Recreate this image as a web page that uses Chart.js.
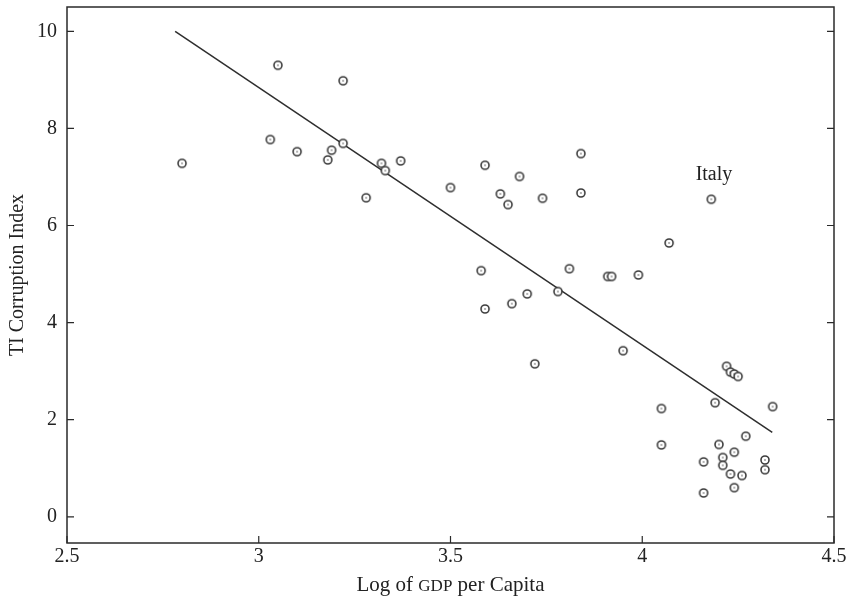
<!DOCTYPE html>
<html>
<head>
<meta charset="utf-8">
<title>TI Corruption Index vs Log of GDP per Capita</title>
<script src="https://cdn.jsdelivr.net/npm/chart.js@4.4.1/dist/chart.umd.min.js"></script>
<style>
	html, body { margin: 0; padding: 0; background: #fff; }
	#wrap { width: 850px; height: 600px; position: relative; }
</style>
</head>
<body>
<div id="wrap"><canvas id="corruption-chart" width="850" height="600"></canvas></div>
<script>
// log of GDP per capita, one entry per country
var gdpLog = [
	2.80, 3.05, 3.22, 3.03, 3.10, 3.22, 3.19, 3.18, 3.32, 3.33,
	3.37, 3.28, 3.50, 3.59, 3.68, 3.63, 3.65, 3.74, 3.84, 3.84,
	4.07, 3.58, 3.81, 3.91, 3.92, 3.99, 3.78, 3.70, 3.66, 3.59,
	3.95, 4.05, 4.05, 4.19, 4.22, 4.23, 4.24, 4.25, 4.34, 4.27,
	4.20, 4.24, 4.21, 4.21, 4.16, 4.32, 4.32, 4.23, 4.26, 4.24,
	4.16, 4.18, 3.72
];

// TI corruption index, same order as gdpLog
var tiIndex = [
	7.28, 9.30, 8.98, 7.77, 7.52, 7.69, 7.55, 7.35, 7.28, 7.13,
	7.33, 6.57, 6.78, 7.24, 7.01, 6.65, 6.43, 6.56, 7.48, 6.67,
	5.64, 5.07, 5.11, 4.95, 4.95, 4.98, 4.64, 4.59, 4.39, 4.28,
	3.42, 2.23, 1.48, 2.35, 3.10, 2.98, 2.94, 2.89, 2.27, 1.66,
	1.49, 1.33, 1.22, 1.06, 1.13, 1.17, 0.97, 0.88, 0.85, 0.60,
	0.49, 6.54, 3.15
];

// fitted line end points
var fitX = [ 2.782, 4.339 ];
var fitY = [ 10.0, 1.74 ];

// tick labels
var xTicks = [ 2.5, 3, 3.5, 4, 4.5 ];
var yTicks = [ 0, 2, 4, 6, 8, 10 ];

// annotation
var noteText = 'Italy';
var noteX = 4.187;
var noteY = 7.05;

( function() {

	var serif = "'Liberation Serif', 'DejaVu Serif', serif";
	var ink = '#222';

	/**
	 * Ring marker with a small dot in the middle.
	 */
	function makeMarker() {
		var c = document.createElement( 'canvas' );
		c.width = 12;
		c.height = 12;

		var ctx = c.getContext( '2d' );

		ctx.beginPath();
		ctx.arc( 6, 6, 4, 0, Math.PI * 2 );
		ctx.fillStyle = '#fff';
		ctx.fill();
		ctx.lineWidth = 1.6;
		ctx.strokeStyle = '#3c3c3c';
		ctx.stroke();

		ctx.beginPath();
		ctx.arc( 6, 6, 0.9, 0, Math.PI * 2 );
		ctx.fillStyle = '#8c8c8c';
		ctx.fill();

		return c;
	}

	var points = gdpLog.map( function( x, i ) {
		return { x: x, y: tiIndex[i] };
	} );

	var fitLine = fitX.map( function( x, i ) {
		return { x: x, y: fitY[i] };
	} );

	/**
	 * Box round the plot, inward ticks, x title and the note.
	 */
	var framePlugin = {
		id: 'frame',
		afterDraw: function( chart ) {
			var ctx = chart.ctx;
			var area = chart.chartArea;
			var xs = chart.scales.x;
			var ys = chart.scales.y;
			var len = 7;

			ctx.save();
			ctx.strokeStyle = '#2a2a2a';
			ctx.lineWidth = 1.5;
			ctx.strokeRect( area.left, area.top, area.right - area.left, area.bottom - area.top );

			ctx.lineWidth = 1.2;
			ctx.beginPath();
			xTicks.forEach( function( v ) {
				var px = xs.getPixelForValue( v );
				ctx.moveTo( px, area.bottom );
				ctx.lineTo( px, area.bottom - len );
			} );
			yTicks.forEach( function( v ) {
				var py = ys.getPixelForValue( v );
				ctx.moveTo( area.left, py );
				ctx.lineTo( area.left + len, py );
				ctx.moveTo( area.right, py );
				ctx.lineTo( area.right - len, py );
			} );
			ctx.stroke();

			// x title, GDP in small capitals
			var parts = [
				{ text: 'Log of ', size: 21 },
				{ text: 'GDP', size: 17 },
				{ text: ' per Capita', size: 21 }
			];
			var total = 0;

			parts.forEach( function( p ) {
				ctx.font = p.size + 'px ' + serif;
				p.width = ctx.measureText( p.text ).width;
				total += p.width;
			} );

			var cx = ( area.left + area.right ) / 2 - total / 2;

			ctx.fillStyle = ink;
			ctx.textBaseline = 'alphabetic';
			ctx.textAlign = 'left';
			parts.forEach( function( p ) {
				ctx.font = p.size + 'px ' + serif;
				ctx.fillText( p.text, cx, 591 );
				cx += p.width;
			} );

			// note
			ctx.font = '20px ' + serif;
			ctx.textAlign = 'center';
			ctx.textBaseline = 'middle';
			ctx.fillText( noteText, xs.getPixelForValue( noteX ), ys.getPixelForValue( noteY ) );

			ctx.restore();
		}
	};

	var config = {
		type: 'scatter',
		data: {
			datasets: [
				{
					type: 'line',
					data: fitLine,
					borderColor: '#2e2e2e',
					borderWidth: 1.5,
					pointRadius: 0,
					fill: false,
					order: 2
				},
				{
					data: points,
					pointStyle: makeMarker(),
					pointRadius: 5,
					order: 1
				}
			]
		},
		options: {
			responsive: false,
			animation: false,
			layout: {
				padding: { top: 7, right: 16, left: 0, bottom: 0 }
			},
			plugins: {
				legend: { display: false },
				tooltip: { enabled: false }
			},
			scales: {
				x: {
					type: 'linear',
					min: 2.5,
					max: 4.5,
					grid: { display: false, drawTicks: false },
					border: { display: false },
					afterBuildTicks: function( scale ) {
						scale.ticks = xTicks.map( function( v ) {
							return { value: v };
						} );
					},
					afterFit: function( scale ) {
						scale.height = 57;
						scale.paddingLeft = 0;
						scale.paddingRight = 0;
					},
					ticks: {
						padding: 2,
						color: ink,
						maxRotation: 0,
						font: { size: 20, family: serif },
						callback: function( v ) {
							return String( v );
						}
					}
				},
				y: {
					type: 'linear',
					min: -0.54,
					max: 10.5,
					grid: { display: false, drawTicks: false },
					border: { display: false },
					afterBuildTicks: function( scale ) {
						scale.ticks = yTicks.map( function( v ) {
							return { value: v };
						} );
					},
					afterFit: function( scale ) {
						scale.width = 67;
						scale.paddingTop = 0;
						scale.paddingBottom = 0;
					},
					title: {
						display: true,
						text: 'TI Corruption Index',
						color: ink,
						padding: { top: 6, bottom: 0 },
						font: { size: 20, family: serif }
					},
					ticks: {
						padding: 10,
						color: ink,
						font: { size: 20, family: serif },
						callback: function( v ) {
							return String( v );
						}
					}
				}
			}
		},
		plugins: [ framePlugin ]
	};

	window.corruptionChart = new Chart( document.getElementById( 'corruption-chart' ).getContext( '2d' ), config );

} )();
</script>
</body>
</html>
